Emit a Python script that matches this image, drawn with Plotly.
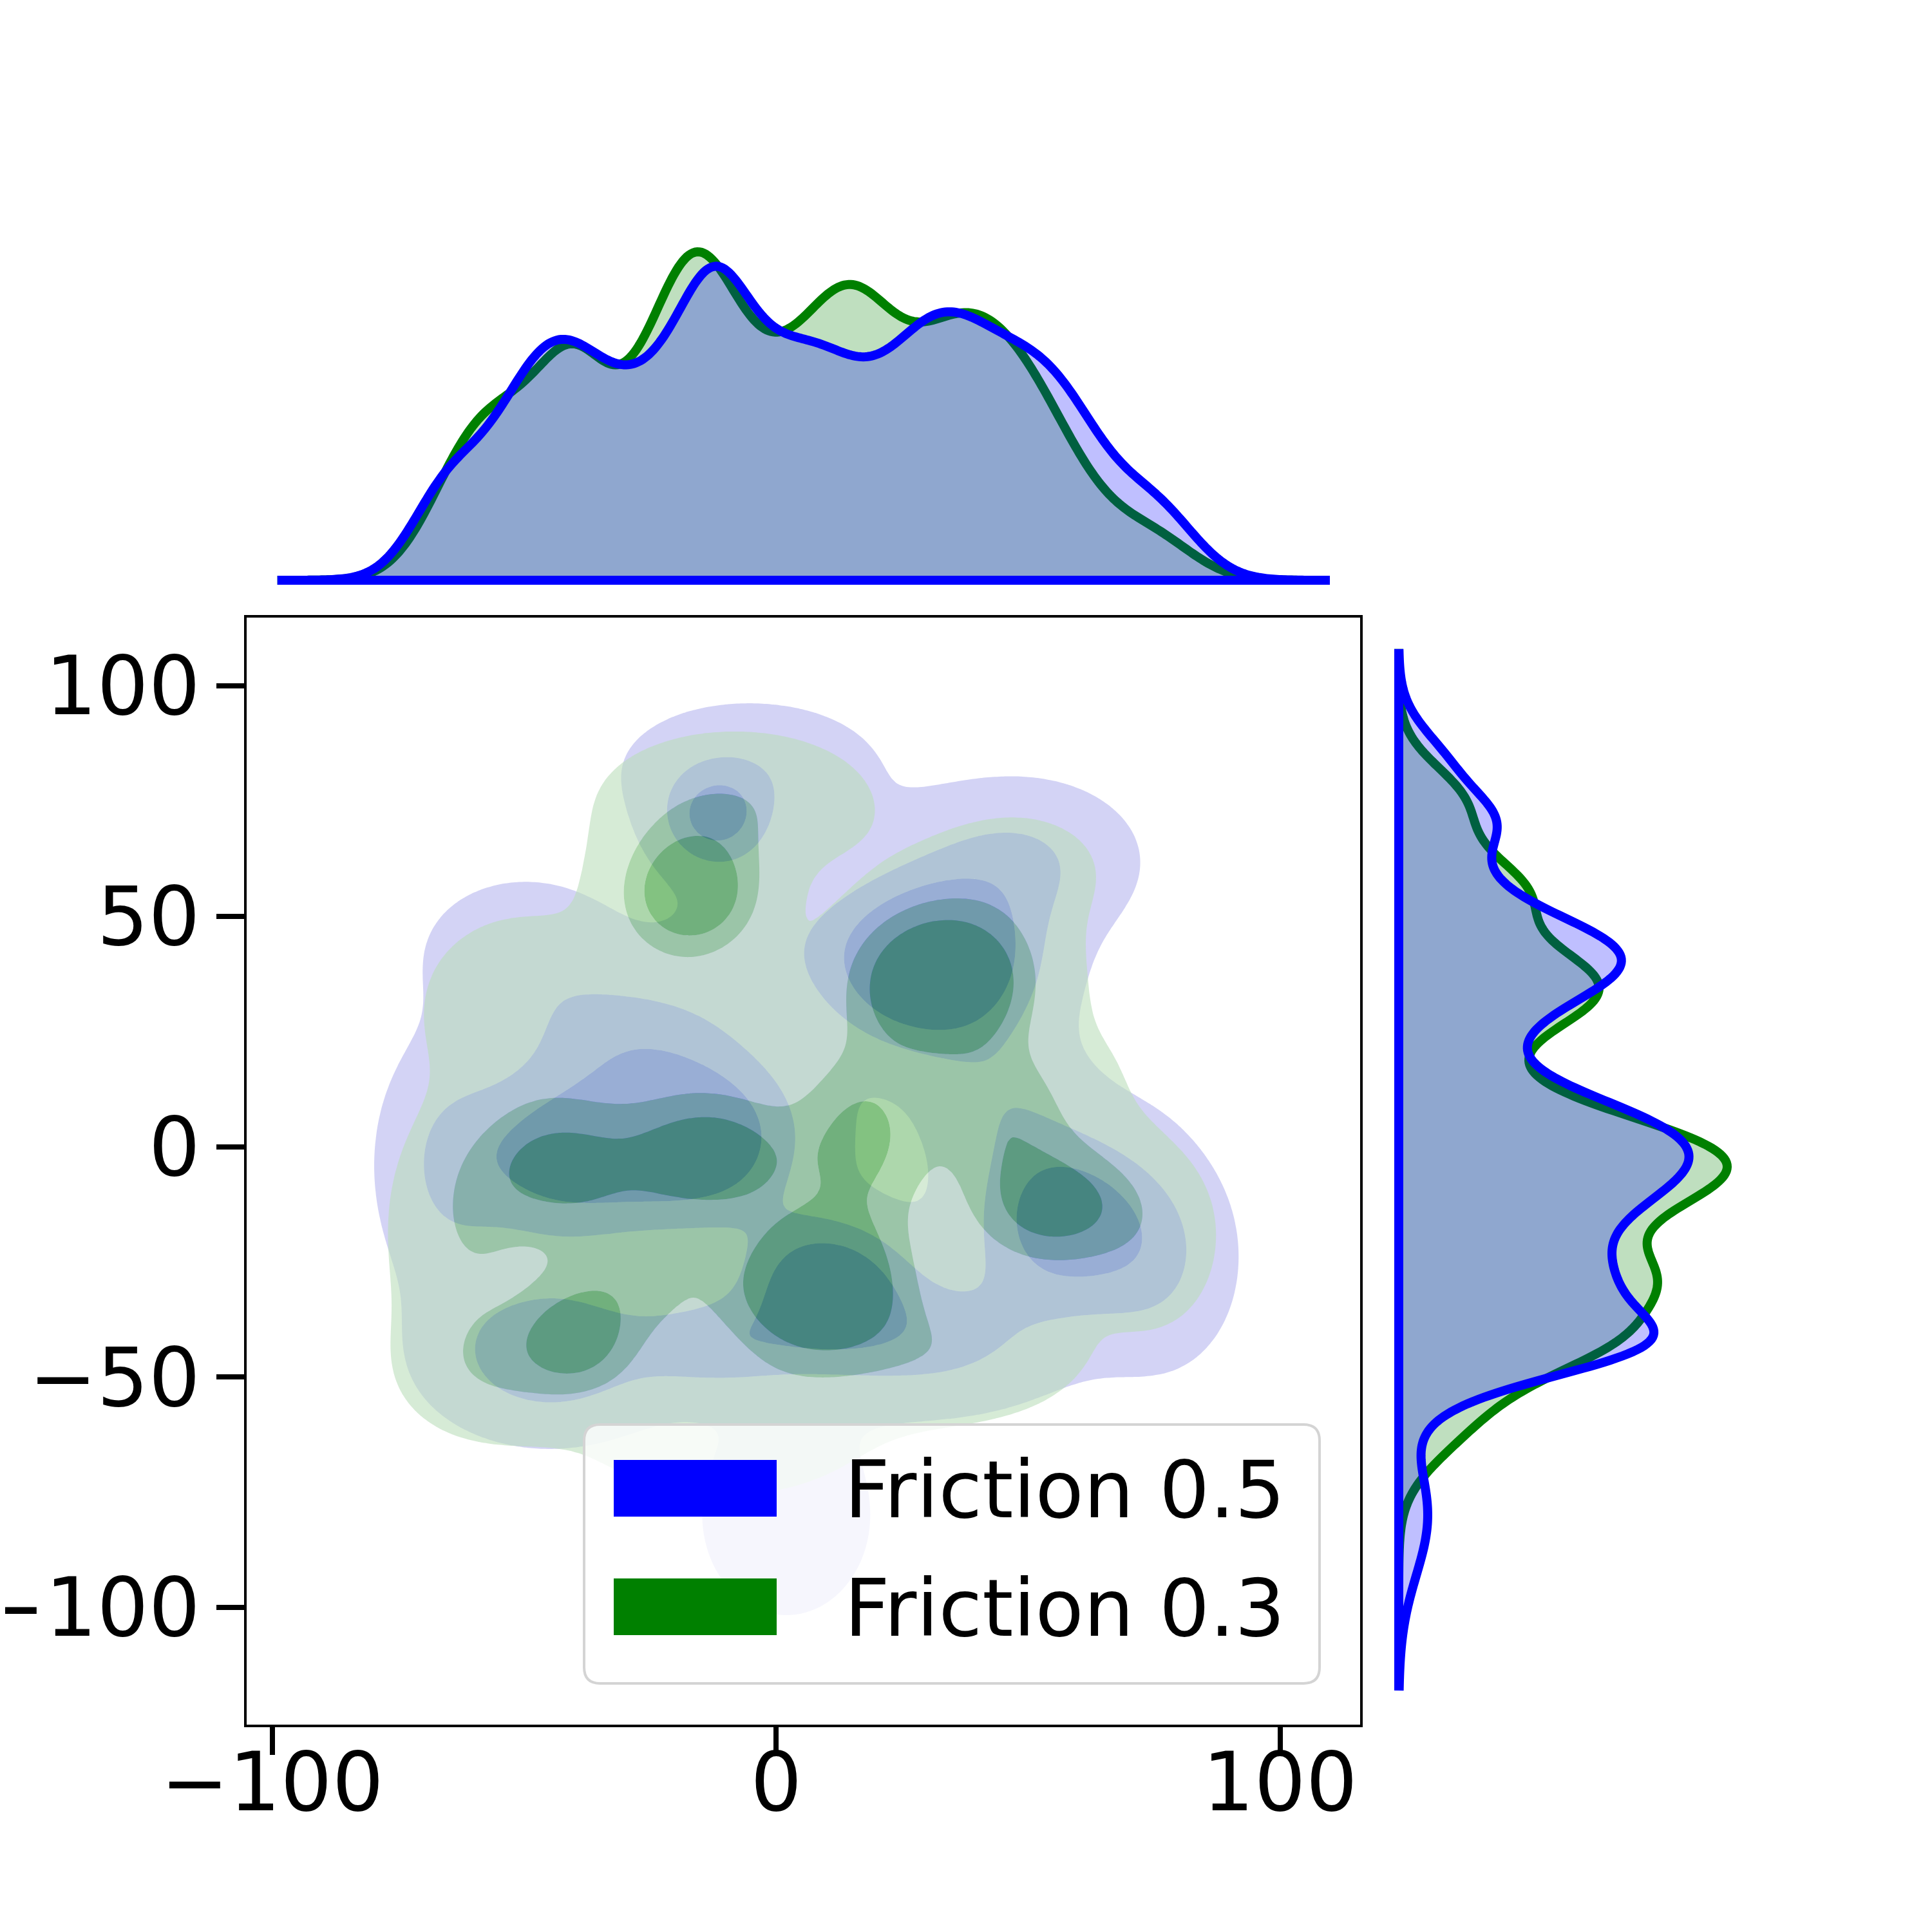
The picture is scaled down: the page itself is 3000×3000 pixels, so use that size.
import numpy as np
import plotly.graph_objects as go

# Joint KDE of two runs, drawn as a mixture of density blobs:
# centre x, centre y, spread x, spread y, weight

# Friction 0.5 (blue)
f05_cx = [-44, -16, 31, 57, -12, -12, -5, 48, 76, 30, 2, -45, -66, -50, 0, 10, -30, 75, 45]
f05_cy = [-2, 2, 40, -16, -43, 71, 82, 62, -25, -42, -80, -45, -5, 42, 45, -30, 25, 10, 10]
f05_sx = [11, 12, 11, 10, 10, 6, 14, 12, 8, 14, 10, 12, 7, 11, 12, 9, 12, 8, 9]
f05_sy = [11, 11, 10, 11, 6, 6, 8, 9, 12, 8, 13, 9, 15, 9, 10, 8, 8, 10, 9]
f05_w = [0.089, 0.132, 0.144, 0.096, 0.030, 0.025, 0.034, 0.045, 0.034, 0.055, 0.035, 0.068,
         0.034, 0.028, 0.025, 0.068, 0.035, 0.002, 0.022]

# Friction 0.3 (green)
f03_cx = [-43, -13, 17, 8, 33, 55, -17, -40, -62, -8, 48, 76, 35, -10, -50, -30, -55, 70, 45, -18]
f03_cy = [-4, -2, 2, -30, 36, -13, 55, -42, -20, 75, 60, -22, -45, -60, 30, -30, -48, 20, 8, 25]
f03_sx = [10, 10, 8, 10, 10, 10, 8, 6, 8, 14, 12, 8, 14, 16, 11, 10, 10, 8, 9, 12]
f03_sy = [9, 8, 12, 9, 9, 8, 8, 6, 14, 8, 9, 12, 8, 9, 11, 9, 8, 12, 9, 9]
f03_w = [0.065, 0.072, 0.068, 0.109, 0.116, 0.065, 0.065, 0.022, 0.040, 0.042, 0.020, 0.018,
         0.038, 0.045, 0.040, 0.046, 0.030, 0.006, 0.046, 0.020]

series_names = ["Friction 0.5", "Friction 0.3"]
level_props = [0.05, 0.367, 0.683]   # iso-proportion levels of the filled contours
joint_smooth = 1.2                   # joint KDE is smoother than the marginal ones

x_range = [-105.1, 115.9]
y_range = [-125.4, 114.8]
x_support = [-99, 109]
y_support = [-118, 107]

BLUE_BANDS = ["rgba(182,182,238,0.6)", "rgba(97,93,255,0.6)", "rgba(0,0,250,0.6)"]
GREEN_BANDS = ["rgba(187,221,187,0.6)", "rgba(119,188,117,0.6)", "rgba(49,153,45,0.6)"]


def gauss(g, c, s):
    g = np.asarray(g, float)[:, None]
    return np.exp(-0.5 * ((g - np.asarray(c)) / np.asarray(s)) ** 2) / (np.sqrt(2 * np.pi) * np.asarray(s))


def density2d(cx, cy, sx, sy, w, gx, gy):
    X, Y = np.meshgrid(gx, gy)
    z = np.zeros_like(X)
    for a, b, c, d, e in zip(cx, cy, sx, sy, w):
        c, d = c * joint_smooth, d * joint_smooth
        z += e / (2 * np.pi * c * d) * np.exp(-0.5 * (((X - a) / c) ** 2 + ((Y - b) / d) ** 2))
    return z / sum(w)


def density1d(c, s, w, g):
    return (gauss(g, c, s) * np.asarray(w)).sum(axis=1) / sum(w)


def iso_levels(z, props):
    v = np.sort(z.ravel())[::-1]
    cum = np.cumsum(v) / v.sum()
    return [v[min(np.searchsorted(cum, 1 - p), len(v) - 1)] for p in props]


gx = np.linspace(x_range[0], x_range[1], 260)
gy = np.linspace(y_range[0], y_range[1], 280)

fig = go.Figure()

# --- joint KDE bands (blue first, green on top)
for cx, cy, sx, sy, w, bands in [
    (f05_cx, f05_cy, f05_sx, f05_sy, f05_w, BLUE_BANDS),
    (f03_cx, f03_cy, f03_sx, f03_sy, f03_w, GREEN_BANDS),
]:
    z = density2d(cx, cy, sx, sy, w, gx, gy)
    lv = iso_levels(z, level_props)
    zn = np.round(z / z.max() * 1000, 3)
    lv = [l / z.max() * 1000 for l in lv]
    # plotly shades the region that fails the constraint
    ranges = [("][", [lv[0], lv[1]]), ("][", [lv[1], lv[2]]), ("<", lv[2])]
    for (op, val), col in zip(ranges, bands):
        fig.add_trace(go.Contour(
            x=gx, y=gy, z=zn,
            contours=dict(type="constraint", operation=op, value=val),
            fillcolor=col, line=dict(width=0, smoothing=1),
            showscale=False, showlegend=False, hoverinfo="skip",
            xaxis="x", yaxis="y",
        ))

# --- marginal KDE curves (green first, blue on top)
mx = np.linspace(x_support[0], x_support[1], 500)
my = np.linspace(y_support[0], y_support[1], 500)
top_curves, right_curves = [], []
for cx, cy, sx, sy, w in [(f03_cx, f03_cy, f03_sx, f03_sy, f03_w),
                          (f05_cx, f05_cy, f05_sx, f05_sy, f05_w)]:
    top_curves.append(density1d(cx, sx, w, mx))
    right_curves.append(density1d(cy, sy, w, my))

line_cols = ["rgb(0,128,0)", "rgb(0,0,255)"]
fill_cols = ["rgba(0,128,0,0.25)", "rgba(0,0,255,0.25)"]
for dx, dy, lc, fc in zip(top_curves, right_curves, line_cols, fill_cols):
    fig.add_trace(go.Scatter(
        x=np.concatenate([mx, mx[::-1]]), y=np.concatenate([dx, np.zeros_like(mx)]),
        fill="toself", fillcolor=fc, line=dict(color=lc, width=14, simplify=False),
        mode="lines", showlegend=False, hoverinfo="skip", xaxis="x2", yaxis="y2",
    ))
    fig.add_trace(go.Scatter(
        x=np.concatenate([dy, np.zeros_like(my)]), y=np.concatenate([my, my[::-1]]),
        fill="toself", fillcolor=fc, line=dict(color=lc, width=14, simplify=False),
        mode="lines", showlegend=False, hoverinfo="skip", xaxis="x3", yaxis="y3",
    ))

top_max = max(c.max() for c in top_curves)
right_max = max(c.max() for c in right_curves)

W = 3000.0
axis_font = dict(family="DejaVu Sans", size=126, color="black")
main_axis = dict(
    showline=True, mirror=True, linecolor="black", linewidth=4,
    ticks="outside", ticklen=43, tickwidth=8, tickcolor="black",
    showgrid=False, zeroline=False, tickfont=axis_font, automargin=False,
)

fig.update_layout(
    width=3000, height=3000,
    margin=dict(l=0, r=0, t=0, b=0),
    paper_bgcolor="white", plot_bgcolor="white",
    font=dict(family="DejaVu Sans", color="black"),
    xaxis=dict(main_axis, domain=[375 / W, 2104 / W], range=x_range, anchor="y",
               tickvals=[-100, 0, 100], ticktext=["\u2212100", "0", "100"],
               ticklabelstandoff=-65),
    yaxis=dict(main_axis, domain=[1 - 2670 / W, 1 - 951 / W], range=y_range, anchor="x",
               tickvals=[-100, -50, 0, 50, 100],
               ticktext=["\u2212100", "\u221250", "0", "50", "100"]),
    xaxis2=dict(domain=[375 / W, 2104 / W], range=x_range, anchor="y2", visible=False),
    yaxis2=dict(domain=[1 - 905 / W, 1 - 357 / W],
                range=[-0.0235 * top_max, 1.051 * top_max], anchor="x2", visible=False),
    xaxis3=dict(domain=[2152 / W, 2700 / W],
                range=[-0.0235 * right_max, 1.051 * right_max], anchor="y3", visible=False),
    yaxis3=dict(domain=[1 - 2670 / W, 1 - 951 / W], range=y_range, anchor="x3", visible=False),
)

# --- legend box: semi-transparent frame with wide colour patches
bx0, bx1 = 899 / W, 2041 / W
by0, by1 = 1 - 2606 / W, 1 - 2204 / W
r = 25 / W
box_path = (f"M {bx0 + r},{by0} L {bx1 - r},{by0} Q {bx1},{by0} {bx1},{by0 + r} "
            f"L {bx1},{by1 - r} Q {bx1},{by1} {bx1 - r},{by1} L {bx0 + r},{by1} "
            f"Q {bx0},{by1} {bx0},{by1 - r} L {bx0},{by0 + r} Q {bx0},{by0} {bx0 + r},{by0} Z")
fig.add_shape(type="path", path=box_path, xref="paper", yref="paper",
              fillcolor="rgba(255,255,255,0.8)", line=dict(color="rgb(212,212,212)", width=4),
              layer="above")
for i, (name, col) in enumerate(zip(series_names, ["rgb(0,0,255)", "rgb(0,128,0)"])):
    top = 2259 + i * 184
    fig.add_shape(type="rect", xref="paper", yref="paper",
                  x0=945 / W, x1=1198 / W, y0=1 - (top + 88) / W, y1=1 - top / W,
                  fillcolor=col, line=dict(width=0), layer="above")
    fig.add_annotation(x=1301 / W, y=1 - (top + 46) / W, xref="paper", yref="paper",
                       text=name, showarrow=False, xanchor="left", yanchor="middle",
                       font=dict(family="DejaVu Sans", size=123, color="black"))

fig.write_html("out.html")
